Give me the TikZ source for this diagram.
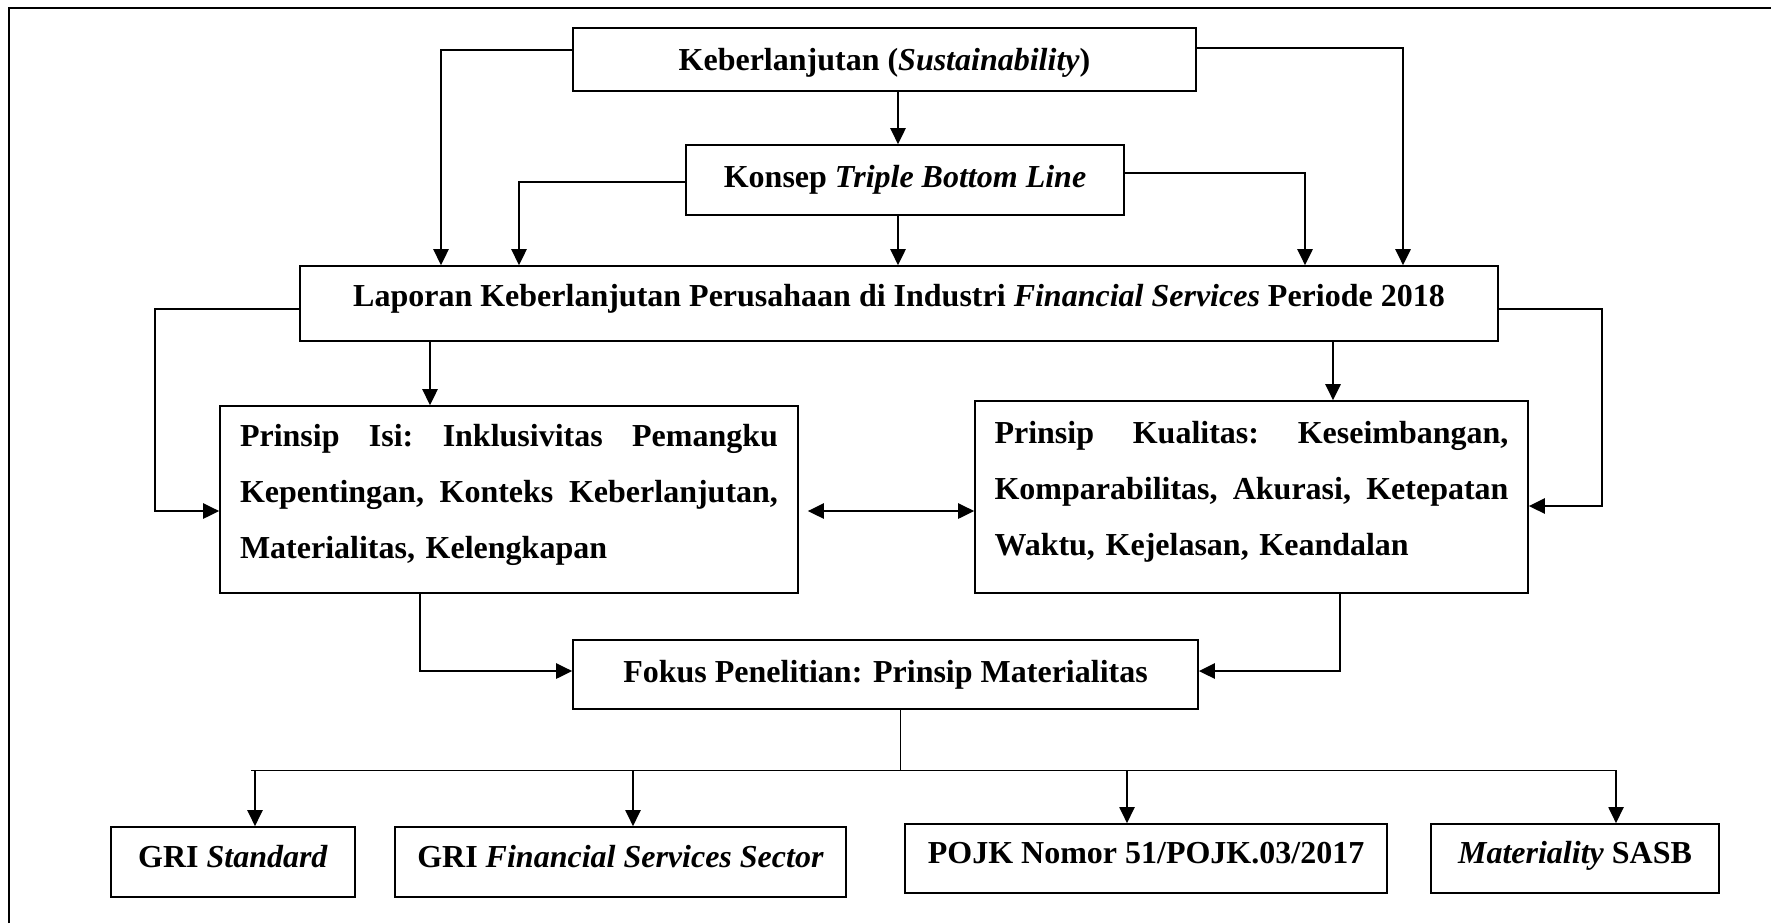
\documentclass[tikz,border=0pt]{standalone}
\usepackage{fontspec}
\setmainfont{Liberation Serif}
\usetikzlibrary{arrows.meta,calc}
\begin{document}
\begin{tikzpicture}[x=0.5pt,y=-0.5pt,
  box/.style={draw,line width=0.8pt,inner sep=0pt,align=center,
    font=\bfseries\fontsize{16}{28}\selectfont},
  arr/.style={line width=1.3pt,-{Triangle[length=8pt,width=7.5pt]}},
  arrtwo/.style={line width=1.3pt,{Triangle[length=8pt,width=7.5pt]}-{Triangle[length=8pt,width=7.5pt]}},
  thinline/.style={line width=0.5pt},
  arrthin/.style={line width=1pt,-{Triangle[length=8pt,width=7.5pt]}}]
\useasboundingbox (0,0) rectangle (1771,923);
% frame
\draw[line width=1.3pt] (9,923) -- (9,8) -- (1771,8);

\node[box,minimum width=311.5pt,minimum height=31.5pt] (k1) at (884.5,59.5) {\rule{0pt}{14pt}Keberlanjutan (\textit{Sustainability})};
\node[box,minimum width=219pt,minimum height=35pt] (k2) at (905,180) {Konsep \textit{Triple Bottom Line}};
\node[box,minimum width=599pt,minimum height=37.5pt] (k3) at (899,303.5) {Laporan Keberlanjutan Perusahaan di Industri \textit{Financial Services} Periode 2018\rule[-8pt]{0pt}{0pt}};
\node[box,minimum width=289pt,minimum height=93.5pt,align=left,text width=269pt,inner xsep=10pt] (isi) at (509,499.5)
 {\makebox[269pt][l]{Prinsip\hfill Isi:\hfill Inklusivitas\hfill Pemangku}\\\makebox[269pt][l]{Kepentingan,\hfill Konteks\hfill Keberlanjutan,}\\Materialitas, Kelengkapan\rule[-8.5pt]{0pt}{0pt}};
\node[box,minimum width=276.5pt,minimum height=96pt,align=left,text width=257pt,inner xsep=9.75pt] (kual) at (1251.5,497)
 {\makebox[257pt][l]{Prinsip\hfill Kualitas:\hfill Keseimbangan,}\\\makebox[257pt][l]{Komparabilitas,\hfill Akurasi,\hfill Ketepatan}\\Waktu, Kejelasan, Keandalan\rule[-9pt]{0pt}{0pt}};
\node[box,minimum width=312.5pt,minimum height=34.5pt] (fokus) at (885.5,674.5) {Fokus Penelitian: Prinsip Materialitas};
\node[box,minimum width=122pt,minimum height=35pt] (gri1) at (233,862) {GRI \textit{Standard}\rule[-6pt]{0pt}{0pt}};
\node[box,minimum width=225.5pt,minimum height=35pt] (gri2) at (620.5,862) {GRI \textit{Financial Services Sector}\rule[-6pt]{0pt}{0pt}};
\node[box,minimum width=241pt,minimum height=34.5pt] (pojk) at (1146,858.5) {POJK Nomor 51/POJK.03/2017\rule[-6pt]{0pt}{0pt}};
\node[box,minimum width=144pt,minimum height=34.5pt] (sasb) at (1575,858.5) {\textit{Materiality} SASB\rule[-6pt]{0pt}{0pt}};

% coordinates
\coordinate (cA) at (441,50);
\coordinate (cB) at (1403,48);
\coordinate (cC) at (519,182);
\coordinate (cD) at (1305,173);
\coordinate (cE) at (898,0);
\coordinate (cF) at (155,309);
\coordinate (cG) at (0,511);
\coordinate (cH) at (1602,309);
\coordinate (cI) at (0,506);
\coordinate (cJ) at (430,0);
\coordinate (cJ2) at (1333,0);
\coordinate (cK) at (420,671);
\coordinate (cL) at (1340,671);
\coordinate (cM) at (900,770);
\coordinate (hL) at (251,770);
\coordinate (hR) at (1616,770);
\coordinate (d1) at (255,770);
\coordinate (d2) at (633,770);
\coordinate (d3) at (1127,770);

% top connectors
\draw[arr] (k1.west |- cA) -- (cA) -- (cA |- k3.north);
\draw[arr] (k1.east |- cB) -- (cB) -- (cB |- k3.north);
\draw[arr] (k2.west |- cC) -- (cC) -- (cC |- k3.north);
\draw[arr] (k2.east |- cD) -- (cD) -- (cD |- k3.north);
\draw[arr] (k1.south -| cE) -- (k2.north -| cE);
\draw[arr] (k2.south -| cE) -- (k3.north -| cE);
% side connectors
\draw[arr] (k3.west |- cF) -- (cF) |- (isi.west |- cG);
\draw[arr] (k3.east |- cH) -- (cH) |- (kual.east |- cI);
\draw[arr] (k3.south -| cJ) -- (isi.north -| cJ);
\draw[arr] (k3.south -| cJ2) -- (kual.north -| cJ2);
\draw[arrtwo,shorten <=4.5pt] (isi.east |- cG) -- (kual.west |- cG);
% to fokus
\draw[arr] (isi.south -| cK) -- (cK) -- (fokus.west |- cK);
\draw[arr] (kual.south -| cL) -- (cL) -- (fokus.east |- cL);
% bottom tree
\draw[thinline] (fokus.south -| cM) -- (cM);
\draw[thinline] (hL) -- (hR);
\draw[arrthin] (d1) -- (d1 |- gri1.north);
\draw[arrthin] (d2) -- (d2 |- gri2.north);
\draw[arrthin] (d3) -- (d3 |- pojk.north);
\draw[arrthin] (hR) -- (hR |- sasb.north);
\end{tikzpicture}
\end{document}
